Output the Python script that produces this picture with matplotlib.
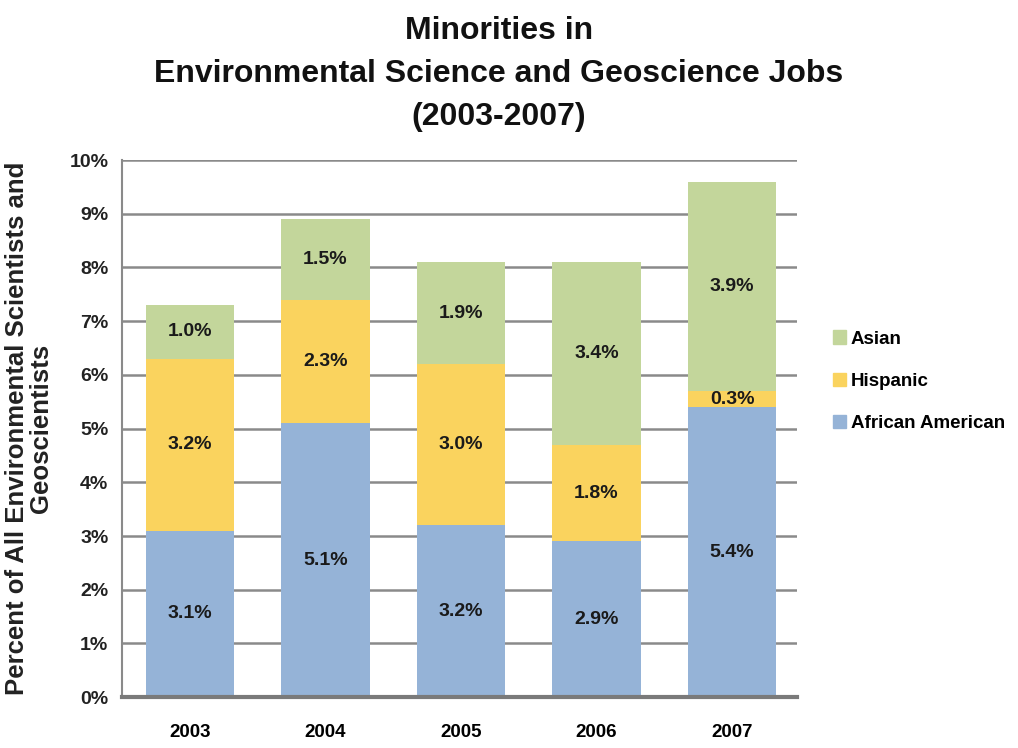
import numpy as np
import matplotlib
matplotlib.use("Agg")
import matplotlib.pyplot as plt
from matplotlib.patches import Patch

plt.rcParams['font.family'] = ['Liberation Sans Narrow', 'Liberation Sans', 'DejaVu Sans']
plt.rcParams['font.weight'] = 'bold'

# Data
years = ['2003', '2004', '2005', '2006', '2007']
african_american = [3.1, 5.1, 3.2, 2.9, 5.4]
hispanic = [3.2, 2.3, 3.0, 1.8, 0.3]
asian = [1.0, 1.5, 1.9, 3.4, 3.9]
yticks = [0, 1, 2, 3, 4, 5, 6, 7, 8, 9, 10]

c_blue = '#95B3D7'
c_yellow = '#FAD35E'
c_green = '#C3D69B'

fig = plt.figure(figsize=(10.18, 7.48), dpi=100)
ax = fig.add_axes([0.120, 0.068, 0.663, 0.718])

x = np.arange(len(years))
w = 0.65
aa = np.array(african_american)
hi = np.array(hispanic)
asn = np.array(asian)

ax.bar(x, aa, w, color=c_blue, zorder=2)
ax.bar(x, hi, w, bottom=aa, color=c_yellow, zorder=2)
ax.bar(x, asn, w, bottom=aa + hi, color=c_green, zorder=2)

# Segment labels
for vals, bottoms in [(aa, np.zeros_like(aa)), (hi, aa), (asn, aa + hi)]:
    for xi, v, b in zip(x, vals, bottoms):
        ax.text(xi, b + v / 2, f'{v:.1f}%', ha='center', va='center',
                fontsize=14, color='#1a1a1a', zorder=3)

ax.set_xlim(-0.5, 4.48)
ax.set_ylim(0, 10)
ax.set_yticks(yticks)
ax.set_yticklabels([f'{t}%' for t in yticks], fontsize=14, color='#222222')
ax.set_xticks(x)
ax.set_xticklabels(years, fontsize=13.5)
ax.tick_params(axis='y', length=0, pad=10)
ax.tick_params(axis='x', length=0, pad=19)
ax.yaxis.grid(True, color='#8a8a8a', linewidth=1.8, zorder=0)
ax.set_axisbelow(True)

for s in ['top', 'right']:
    ax.spines[s].set_visible(False)
ax.spines['left'].set_color('#8a8a8a')
ax.spines['left'].set_linewidth(1.5)
ax.spines['bottom'].set_color('#7a7a7a')
ax.spines['bottom'].set_linewidth(3)

ax.set_ylabel('Percent of All Environmental Scientists and\nGeoscientists',
              fontsize=18.5, fontweight='bold', labelpad=12, linespacing=1.0,
              color='#222222')

fig.text(0.49, 0.978, 'Minorities in\nEnvironmental Science and Geoscience Jobs\n(2003-2007)',
         ha='center', va='top', fontsize=23, linespacing=1.55, color='#111111')

handles = [Patch(color=c_green, label='Asian'),
           Patch(color=c_yellow, label='Hispanic'),
           Patch(color=c_blue, label='African American')]
fig.legend(handles=handles, loc='center left', bbox_to_anchor=(0.818, 0.49),
           frameon=False, fontsize=13.5, handlelength=0.7, handleheight=0.7,
           handletextpad=0.25, labelspacing=1.35, borderpad=0, borderaxespad=0)

fig.savefig('out.png', dpi=100)
